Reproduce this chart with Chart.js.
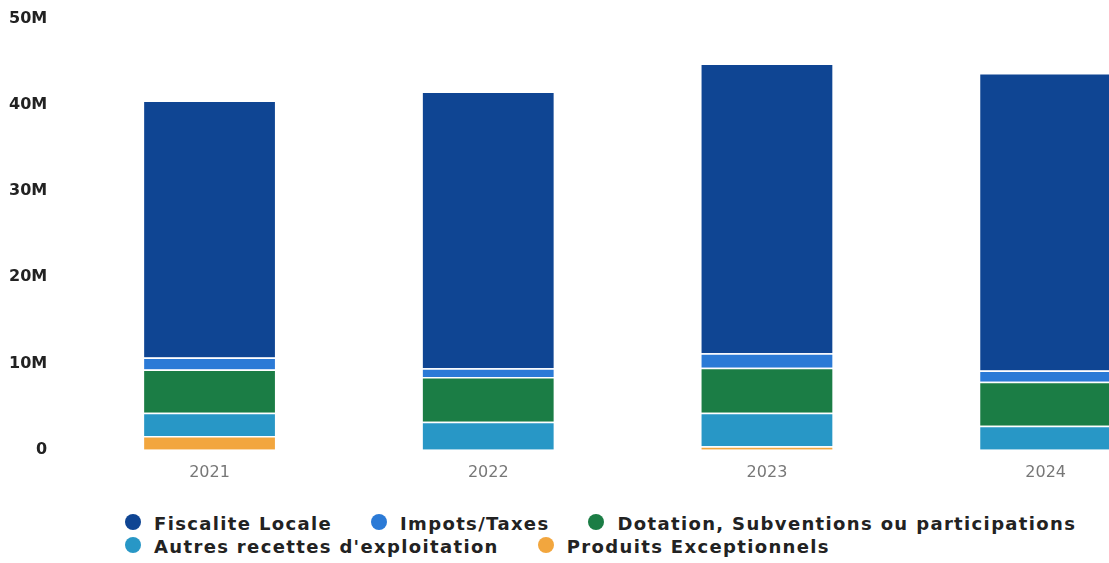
<!DOCTYPE html>
<html>
<head>
<meta charset="utf-8">
<script src="https://cdn.jsdelivr.net/npm/chart.js@4"></script>
<style>
  html, body { margin: 0; padding: 0; background: #fff; overflow: hidden; }
  body { width: 1109px; height: 563px; position: relative; }
  #wrap { position: absolute; left: -24px; top: -14px; width: 1224px; height: 501px; }
  #legend {
    position: absolute; left: 125px; top: 512px; width: 1010px;
    display: flex; flex-wrap: wrap;
    font-family: 'DejaVu Sans', sans-serif; font-weight: bold; font-size: 18px;
    letter-spacing: 1.35px; color: #222; line-height: 23px;
  }
  #legend .item { display: flex; align-items: center; margin-right: 39px; white-space: nowrap; }
  #legend .dot { width: 16px; height: 16px; border-radius: 50%; margin-right: 13px; margin-top: -4px; }
</style>
</head>
<body>
<div id="wrap"><canvas id="chart"></canvas></div>
<div id="legend"></div>
<script>
// values in millions of euros
const years = ['2021', '2022', '2023', '2024'];
const fiscaliteLocale = [29.8, 32.1, 33.6, 34.5];
const impotsTaxes = [1.4, 1.0, 1.7, 1.3];
const dotations = [5.0, 5.2, 5.2, 5.1];
const autresRecettes = [2.7, 3.25, 3.9, 2.8];
const produitsExceptionnels = [1.6, 0, 0.4, 0];
const yTicks = [0, 10, 20, 30, 40, 50];

const M = v => v * 1e6;

// bottom of the stack first
const series = [
  {label: 'Produits Exceptionnels', data: produitsExceptionnels, color: '#f2a63e'},
  {label: "Autres recettes d'exploitation", data: autresRecettes, color: '#2897c6'},
  {label: 'Dotation, Subventions ou participations', data: dotations, color: '#1b7d45'},
  {label: 'Impots/Taxes', data: impotsTaxes, color: '#2b7ad6'},
  {label: 'Fiscalite Locale', data: fiscaliteLocale, color: '#0f4593'}
];

const ctx = document.getElementById('chart');

const chart = new Chart(ctx, {
  type: 'bar',
  data: {
    labels: years,
    datasets: series.map(s => ({
      label: s.label,
      data: s.data.map(M),
      backgroundColor: s.color,
      borderColor: '#ffffff',
      borderWidth: 1.5,
      categoryPercentage: 0.8,
      barPercentage: 0.6
    }))
  },
  options: {
    responsive: true,
    maintainAspectRatio: false,
    animation: false,
    layout: {
      padding: {left: 10, right: 15, top: 2, bottom: 0}
    },
    plugins: {
      legend: {display: false},
      tooltip: {enabled: false}
    },
    scales: {
      x: {
        stacked: true,
        grid: {display: false},
        border: {display: false},
        ticks: {
          color: '#777',
          padding: 5,
          font: {family: 'DejaVu Sans', size: 16}
        }
      },
      y: {
        stacked: true,
        min: 0,
        max: M(50),
        grid: {display: false, drawTicks: false},
        border: {display: false},
        afterBuildTicks: axis => {
          axis.ticks = yTicks.map(v => ({value: M(v)}));
        },
        ticks: {
          color: '#222',
          padding: 23,
          font: {family: 'DejaVu Sans', size: 16, weight: 'bold'},
          callback: v => v === 0 ? '0' : (v / 1e6) + 'M'
        }
      }
    }
  }
});

// legend in the order the reference shows it, rows left-aligned
const legendEl = document.getElementById('legend');
chart.data.datasets.slice().reverse().forEach(ds => {
  const item = document.createElement('span');
  item.className = 'item';
  const dot = document.createElement('span');
  dot.className = 'dot';
  dot.style.background = ds.backgroundColor;
  item.appendChild(dot);
  item.appendChild(document.createTextNode(ds.label));
  legendEl.appendChild(item);
});
</script>
</body>
</html>
